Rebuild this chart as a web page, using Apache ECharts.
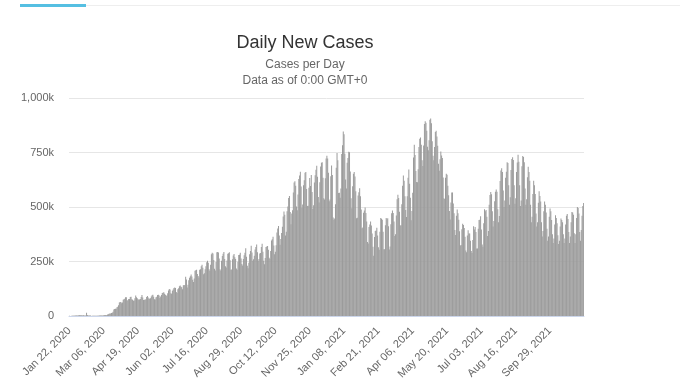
<!DOCTYPE html>
<html><head><meta charset="utf-8">
<script src="https://cdn.jsdelivr.net/npm/echarts@6/dist/echarts.min.js"></script>
<style>html,body{margin:0;padding:0;background:#fff}#c{width:690px;height:388px}</style>
</head><body><div id="c"></div>
<script>
// Daily new cases, in thousands, one value per day starting Jan 22, 2020
const START_DATE = [2020, 0, 22];
const MONTH_NAMES = ['Jan','Feb','Mar','Apr','May','Jun','Jul','Aug','Sep','Oct','Nov','Dec'];

const jan2020 = [0.6,0.1,0.3,0.7,0.8,1.4,1.8,1.5,2.0,2.1];
const feb2020 = [2.6,2.8,3.2,3.9,3.7,3.2,3.4,2.7,3.0,2.5, 2.0,2.0,15.1,5.1,2.6,2.0,1.9,1.8,0.5,0.6, 1.0,1.0,0.6,0.6,0.9,0.9,1.3,1.4,1.8];
const mar2020 = [2.0,1.8,2.4,2.3,2.8,3.9,3.9,4.1,4.0,4.6, 7.4,7.5,10.8,11.0,11.9,14.1,15.4,19.7,29.7,32.3, 32.8,33.4,40.6,42.6,49.6,61.6,64.5,64.6,59.0,62.4,74.8];
const apr2020 = [77.0,78.7,85.5,85.6,71.4,72.6,77.8,78.3,87.6,88.6, 77.3,74.7,70.1,71.4,81.0,94.5,85.7,81.0,75.3,75.5, 75.5,78.4,86.6,96.4,84.5,73.7,74.4,74.9,77.0,87.0];
const may2020 = [92.0,84.4,78.5,80.5,81.5,90.0,95.0,97.3,88.5,77.0, 75.6,85.5,88.5,96.8,97.5,94.5,82.6,88.9,96.4,106.0, 106.6,109.0,101.5,97.0,92.5,94.0,104.4,117.0,123.5,121.0,104.5];
const jun2020 = [101.8,115.6,121.0,128.5,131.0,128.8,109.6,105.6,122.5,127.5, 137.0,139.4,134.0,132.0,123.0,141.5,142.0,141.2,180.0,167.0, 131.0,143.0,164.0,175.0,182.0,190.0,181.0,166.0,156.0,172.0];
const jul2020 = [208,210,212,193,183,177,212,215,228,235, 221,191,196,215,228,247,254,244,215,208, 235,283,290,287,257,217,209,248,292,294,291];
const aug2020 = [264,215,209,253,275,286,294,261,228,222, 255,286,288,292,256,212,213,260,278,284, 270,262,218,212,249,280,281,290,264,239,232];
const sep2020 = [262,279,290,311,272,230,219,244,283,298, 322,291,254,260,276,305,317,328,293,254, 262,287,289,317,331,295,253,237,266,316];
const oct2020 = [319,321,304,267,262,298,346,352,363,323, 283,295,325,383,401,413,369,327,353,381, 409,456,479,464,369,387,481,502,541,551,477];
const nov2020 = [421,470,485,566,612,618,597,502,485,557, 628,645,662,594,496,511,600,623,657,661, 582,505,506,588,633,596,647,569,491,508];
const dec2020 = [612,646,671,689,639,546,521,614,686,703, 705,634,540,534,632,723,735,723,657,526, 534,641,690,647,452,442,447,513,680,748,715];
const jan2021 = [564,565,542,585,743,783,846,834,744,626, 585,703,725,754,751,663,540,494,595,652, 660,640,572,448,451,553,568,586,549,488,402];
const feb2021 = [406,474,484,498,473,434,339,333,408,420, 433,415,378,318,276,362,390,392,405,369, 315,304,387,449,446,441,386,306];
const mar2021 = [306,416,450,444,448,412,305,319,421,471, 484,472,433,367,375,461,536,556,541,478, 415,416,513,597,644,620,549,486,454,549,634];
const apr2021 = [672,607,543,439,482,565,727,785,738,665, 615,614,673,775,813,819,786,714,688,782, 881,893,887,850,776,760,806,900,906,884];
const may2021 = [802,735,715,775,844,850,823,781,698,666, 719,755,736,725,635,540,537,634,653,648, 597,554,482,443,521,566,566,516,471,395,372];
const jun2021 = [460,488,471,441,389,323,326,398,423,417, 404,363,301,292,369,393,378,378,345,298, 289,349,412,397,408,385,310,310,400,440];
const jul2021 = [442,458,397,328,318,426,490,480,486,455, 367,390,510,555,569,558,481,410,436,526, 570,580,570,490,430,459,619,668,678,661,576];
const aug2021 = [500,530,634,662,705,702,600,510,545,670, 720,728,716,600,515,540,660,704,740,708, 600,505,530,687,734,729,705,585,510,535,637];
const sep2021 = [685,660,620,510,430,455,560,620,600,560, 470,410,430,520,572,550,525,430,365,390, 480,525,510,475,400,345,365,455,493,480];
const oct2021 = [440,375,335,355,420,462,450,425,370,330, 345,410,447,440,430,375,335,355,420,460, 468,445,385,335,365,430,477,475,465,380,335];
const nov2021 = [375,450,500,495,470,385,345,395,460,505,518];

const yTickValues = [0, 250, 500, 750, 1000];
const yTickLabels = ['0', '250k', '500k', '750k', '1,000k'];

const dailyCases = [].concat(jan2020, feb2020, mar2020, apr2020, may2020, jun2020, jul2020, aug2020,
  sep2020, oct2020, nov2020, dec2020, jan2021, feb2021, mar2021, apr2021, may2021, jun2021, jul2021,
  aug2021, sep2021, oct2021, nov2021);

const dates = [];
for (let i = 0; i < dailyCases.length; i++) {
  const d = new Date(Date.UTC(START_DATE[0], START_DATE[1], START_DATE[2] + i));
  const dd = String(d.getUTCDate()).padStart(2, '0');
  dates.push(MONTH_NAMES[d.getUTCMonth()] + ' ' + dd + ', ' + d.getUTCFullYear());
}

const FONT = '"Liberation Sans", Arial, Helvetica, sans-serif';
const chart = echarts.init(document.getElementById('c'), null, {renderer: 'canvas'});
chart.setOption({
  animation: false,
  backgroundColor: '#fff',
  graphic: [
    {type: 'rect', left: 85, top: 5, shape: {width: 595, height: 1}, style: {fill: '#eeeeee'}, silent: true},
    {type: 'rect', left: 20, top: 4, shape: {width: 66, height: 3}, style: {fill: '#55bfe2'}, silent: true}
  ],
  title: [
    {text: 'Daily New Cases', left: 300, top: 29, textAlign: 'center',
     textStyle: {fontFamily: FONT, fontSize: 18, fontWeight: 'normal', color: '#333333'}},
    {text: 'Cases per Day', left: 300, top: 54, textAlign: 'center',
     textStyle: {fontFamily: FONT, fontSize: 12, fontWeight: 'normal', color: '#666666'}},
    {text: 'Data as of 0:00 GMT+0', left: 300, top: 70, textAlign: 'center',
     textStyle: {fontFamily: FONT, fontSize: 12, fontWeight: 'normal', color: '#666666'}}
  ],
  grid: {left: 69, right: 106, top: 98, bottom: 72, containLabel: false},
  xAxis: {
    type: 'category',
    data: dates,
    boundaryGap: true,
    axisLine: {lineStyle: {color: '#ccd6eb', width: 1}},
    axisTick: {show: false},
    axisLabel: {interval: 43, rotate: 45, margin: 13, color: '#666666', fontSize: 11, fontFamily: FONT}
  },
  yAxis: {
    type: 'value',
    min: yTickValues[0],
    max: yTickValues[yTickValues.length - 1],
    interval: yTickValues[1] - yTickValues[0],
    axisLine: {show: false},
    axisTick: {show: false},
    splitLine: {lineStyle: {color: '#e6e6e6', width: 1}},
    axisLabel: {margin: 15, color: '#666666', fontSize: 11, fontFamily: FONT,
      formatter: function (v) { const k = yTickValues.indexOf(v); return k >= 0 ? yTickLabels[k] : ''; }}
  },
  series: [{
    type: 'bar',
    name: 'Daily Cases',
    data: dailyCases,
    barCategoryGap: '15%',
    itemStyle: {color: '#9c9c9c'}
  }]
});
</script>
</body></html>
